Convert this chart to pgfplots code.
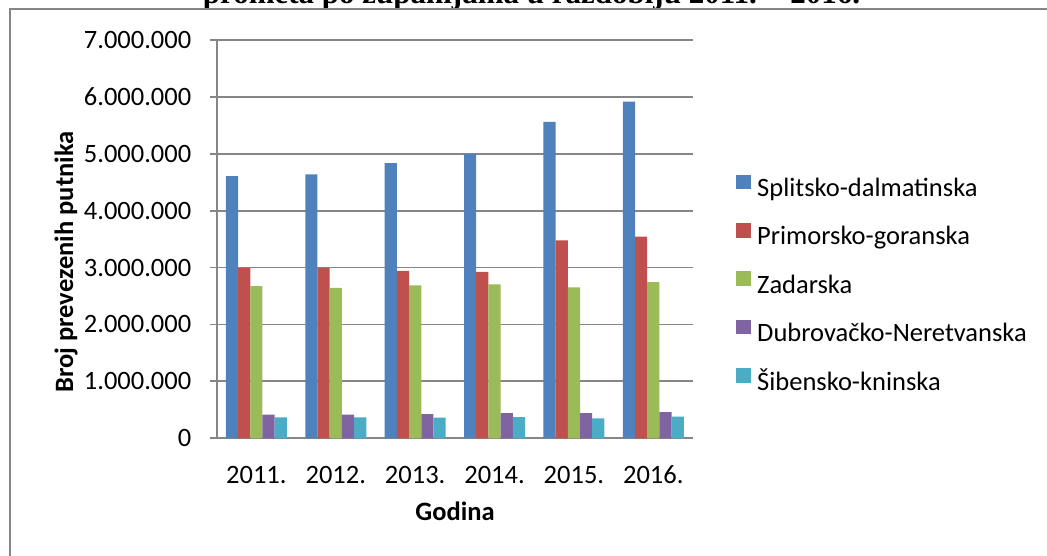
\documentclass[border=0pt]{standalone}
\usepackage{pgfplots}
\pgfplotsset{compat=1.18}
\usepackage{fontspec}
\setmainfont{Carlito}
\newfontfamily\titlefont{Liberation Serif}
\definecolor{c1}{HTML}{4F81BD}
\definecolor{c2}{HTML}{C0504D}
\definecolor{c3}{HTML}{9BBB59}
\definecolor{c4}{HTML}{8064A2}
\definecolor{c5}{HTML}{4BACC6}
\definecolor{gridc}{RGB}{134,134,134}
\begin{document}
\begin{tikzpicture}[x=1pt,y=1pt]
\useasboundingbox (0,0) rectangle (1047,556);
\fill[white] (0,0) rectangle (1047,556);
\node[anchor=base, inner sep=0pt, font=\titlefont\bfseries\fontsize{31}{34}\selectfont] at (531.5,552) {prometa po županijama u razdoblju 2011. – 2016.};
\draw[gridc, line width=2pt] (9.5,-5) -- (9.5,546.5) -- (1060,546.5);
\begin{axis}[
  at={(216.7pt,117.7pt)}, anchor=south west,
  scale only axis, width=476.3pt, height=398.4pt,
  ybar=0pt, bar width=12.2pt,
  xmin=-0.5, xmax=5.5, ymin=0, ymax=7000000,
  xtick={0,1,2,3,4,5},
  xticklabels={2011.,2012.,2013.,2014.,2015.,2016.},
  ytick={0,1000000,2000000,3000000,4000000,5000000,6000000,7000000},
  scaled y ticks=false,
  /pgf/number format/fixed,
  /pgf/number format/1000 sep={.},
  /pgf/number format/assume math mode=true,
  ticklabel style={font=\fontsize{26.5}{30}\selectfont},
  axis x line*=bottom, axis y line*=left,
  axis line style={gridc, line width=1.8pt, -},
  ymajorgrids, grid style={gridc, line width=1.8pt},
  tick align=outside, major tick length=7.2pt,
  ytick style={gridc, line width=1.8pt},
  xtick style={draw=none},
  yticklabel style={anchor=east, inner sep=0pt, xshift=-18pt},
  xticklabel style={anchor=base, inner sep=0pt, yshift=-38.3pt},
  legend style={at={(1.0903,0.384)}, anchor=west, draw=none, fill=none,
    font=\fontsize{26.5}{30}\selectfont, inner sep=0pt, row sep=20.5pt,
    nodes={inner sep=0pt, text height=18pt, text depth=6pt}},
  legend cell align=left,
  legend image code/.code={\fill[#1] (0pt,1.2pt) rectangle (14.7pt,15.9pt);},
  /tikz/every odd column/.append style={column sep=6.3pt},
]
\addplot[fill=c1, draw=none] coordinates {(0,4606000) (1,4635000) (2,4834000) (3,4997000) (4,5558000) (5,5914000)};
\addplot[fill=c2, draw=none] coordinates {(0,2989000) (1,2989000) (2,2942000) (3,2925000) (4,3479000) (5,3544000)};
\addplot[fill=c3, draw=none] coordinates {(0,2674000) (1,2645000) (2,2685000) (3,2703000) (4,2650000) (5,2744000)};
\addplot[fill=c4, draw=none] coordinates {(0,414000) (1,414000) (2,426000) (3,444000) (4,444000) (5,461000)};
\addplot[fill=c5, draw=none] coordinates {(0,368000) (1,368000) (2,362000) (3,374000) (4,350000) (5,379000)};
\legend{Splitsko-dalmatinska, Primorsko-goranska, Zadarska, Dubrovačko-Neretvanska, Šibensko-kninska}
\end{axis}
\node[font=\bfseries\fontsize{26.5}{30}\selectfont, inner sep=0pt] at (455,45) {Godina};
\node[font=\bfseries\fontsize{26.5}{30}\selectfont, inner sep=0pt, rotate=90] at (66,294) {Broj prevezenih putnika};
\end{tikzpicture}
\end{document}
